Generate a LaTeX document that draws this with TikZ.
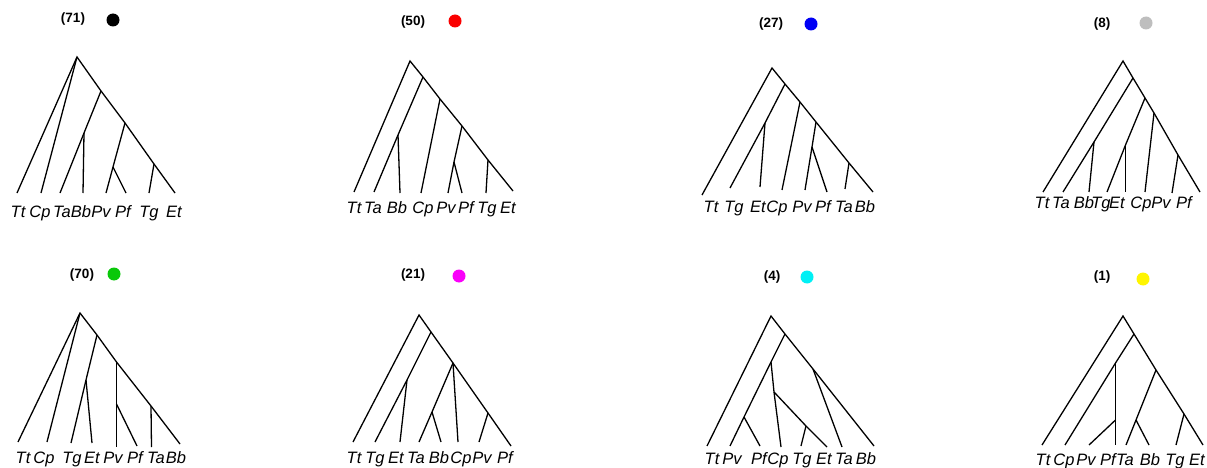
\documentclass[tikz,border=0pt]{standalone}
\usepackage{fontspec}
\setmainfont{Liberation Sans}
\definecolor{dotred}{RGB}{250,0,0}
\definecolor{dotblue}{RGB}{0,0,245}
\definecolor{dotgrey}{RGB}{190,190,190}
\definecolor{dotgreen}{RGB}{10,200,10}
\definecolor{dotmagenta}{RGB}{250,0,250}
\definecolor{dotcyan}{RGB}{0,240,245}
\definecolor{dotyellow}{RGB}{255,245,0}
\tikzset{
  branch/.style={line width=1.3pt, line join=miter},
  leaf/.style={anchor=base, inner sep=0pt, font=\fontsize{16.5}{17}\selectfont\itshape},
  count/.style={inner sep=0pt, font=\fontsize{13.5}{14}\selectfont\bfseries},
  dotmark/.style={circle, inner sep=0pt, minimum size=13pt}
}
\begin{document}
\begin{tikzpicture}[x=1pt, y=-1pt]
    \useasboundingbox (0,0) rectangle (1207,468);

    % Tree 1: (71) black
    \node[count] (cnt1) at (73,19) {(71)};
    \node[dotmark, fill=black] (dot1) at (113,20) {};
    \coordinate (a0) at (77,57);
    \coordinate (a1) at (101,91);
    \coordinate (a2) at (125,123);
    \coordinate (a3) at (154,164);
    \coordinate (a4) at (84,133);
    \coordinate (a5) at (113,167);
    \coordinate (aTt) at (17,193);
    \coordinate (aCp) at (41,193);
    \coordinate (aTa) at (60,193);
    \coordinate (aBb) at (83,193);
    \coordinate (aPv) at (106,193);
    \coordinate (aPf) at (126,193);
    \coordinate (aTg) at (149,193);
    \coordinate (aEt) at (175,193);
    \draw[branch] (aTt) -- (a0) -- (a1) -- (a2) -- (a3) -- (aEt);
    \draw[branch] (a0) -- (aCp);
    \draw[branch] (a1) -- (a4) -- (aTa);
    \draw[branch] (a4) -- (aBb);
    \draw[branch] (a2) -- (a5) -- (aPv);
    \draw[branch] (a5) -- (aPf);
    \draw[branch] (a3) -- (aTg);
    \node[leaf] (laTt) at (18,217) {Tt};
    \node[leaf] (laCp) at (40,217) {Cp};
    \node[leaf] (laTa) at (62,217) {Ta};
    \node[leaf] (laBb) at (81,217) {Bb};
    \node[leaf] (laPv) at (101,217) {Pv};
    \node[leaf] (laPf) at (123,217) {Pf};
    \node[leaf] (laTg) at (149,217) {Tg};
    \node[leaf] (laEt) at (174,217) {Et};

    % Tree 2: (50) red
    \node[count] (cnt2) at (413,22) {(50)};
    \node[dotmark, fill=dotred] (dot2) at (455,21) {};
    \coordinate (b0) at (410,61);
    \coordinate (b1) at (423,77);
    \coordinate (b2) at (440,99);
    \coordinate (b3) at (462,126);
    \coordinate (b4) at (488,160);
    \coordinate (b5) at (398,135);
    \coordinate (b6) at (454,162);
    \coordinate (bTt) at (354,192);
    \coordinate (bTa) at (374,192);
    \coordinate (bBb) at (400,193);
    \coordinate (bCp) at (421,193);
    \coordinate (bPv) at (448,193);
    \coordinate (bPf) at (462,193);
    \coordinate (bTg) at (486,193);
    \coordinate (bEt) at (513,191);
    \draw[branch] (bTt) -- (b0) -- (b1) -- (b2) -- (b3) -- (b4) -- (bEt);
    \draw[branch] (b1) -- (b5) -- (bTa);
    \draw[branch] (b5) -- (bBb);
    \draw[branch] (b2) -- (bCp);
    \draw[branch] (b3) -- (b6) -- (bPv);
    \draw[branch] (b6) -- (bPf);
    \draw[branch] (b4) -- (bTg);
    \node[leaf] (lbTt) at (354,213) {Tt};
    \node[leaf] (lbTa) at (373,213) {Ta};
    \node[leaf] (lbBb) at (397,213) {Bb};
    \node[leaf] (lbCp) at (423,213) {Cp};
    \node[leaf] (lbPv) at (446,213) {Pv};
    \node[leaf] (lbPf) at (466,213) {Pf};
    \node[leaf] (lbTg) at (487,213) {Tg};
    \node[leaf] (lbEt) at (508,213) {Et};

    % Tree 3: (27) blue
    \node[count] (cnt3) at (771,24) {(27)};
    \node[dotmark, fill=dotblue] (dot3) at (811,24) {};
    \coordinate (c0) at (772,68);
    \coordinate (c1) at (785,84);
    \coordinate (c2) at (800,102);
    \coordinate (c3) at (816,122);
    \coordinate (c4) at (849,163);
    \coordinate (c5) at (765,123);
    \coordinate (c6) at (812,147);
    \coordinate (cTt) at (702,195);
    \coordinate (cTg) at (730,188);
    \coordinate (cEt) at (760,187);
    \coordinate (cCp) at (782,190);
    \coordinate (cPv) at (805,190);
    \coordinate (cPf) at (827,192);
    \coordinate (cTa) at (845,189);
    \coordinate (cBb) at (873,192);
    \draw[branch] (cTt) -- (c0) -- (c1) -- (c2) -- (c3) -- (c4) -- (cBb);
    \draw[branch] (c1) -- (c5) -- (cTg);
    \draw[branch] (c5) -- (cEt);
    \draw[branch] (c2) -- (cCp);
    \draw[branch] (c3) -- (c6) -- (cPv);
    \draw[branch] (c6) -- (cPf);
    \draw[branch] (c4) -- (cTa);
    \node[leaf] (lcTt) at (711,212) {Tt};
    \node[leaf] (lcTg) at (734,212) {Tg};
    \node[leaf] (lcEt) at (758,212) {Et};
    \node[leaf] (lcCp) at (777,212) {Cp};
    \node[leaf] (lcPv) at (802,212) {Pv};
    \node[leaf] (lcPf) at (823,212) {Pf};
    \node[leaf] (lcTa) at (844,212) {Ta};
    \node[leaf] (lcBb) at (865,212) {Bb};

    % Tree 4: (8) grey
    \node[count] (cnt4) at (1102,24) {(8)};
    \node[dotmark, fill=dotgrey] (dot4) at (1146,23) {};
    \coordinate (d0) at (1123,61);
    \coordinate (d1) at (1133,78);
    \coordinate (d2) at (1145,98);
    \coordinate (d3) at (1154,113);
    \coordinate (d4) at (1178,155);
    \coordinate (d5) at (1094,142);
    \coordinate (d6) at (1125.5,145);
    \coordinate (dTt) at (1043,192);
    \coordinate (dTa) at (1063,192);
    \coordinate (dBb) at (1089,192);
    \coordinate (dTg) at (1107,192);
    \coordinate (dEt) at (1125.5,192);
    \coordinate (dCp) at (1145,192);
    \coordinate (dPv) at (1172,193);
    \coordinate (dPf) at (1200,192);
    \draw[branch] (dTt) -- (d0) -- (d1) -- (d2) -- (d3) -- (d4) -- (dPf);
    \draw[branch] (d1) -- (d5) -- (dTa);
    \draw[branch] (d5) -- (dBb);
    \draw[branch] (d2) -- (d6) -- (dTg);
    \draw[branch] (d6) -- (dEt);
    \draw[branch] (d3) -- (dCp);
    \draw[branch] (d4) -- (dPv);
    \node[leaf] (ldTt) at (1042,208) {Tt};
    \node[leaf] (ldTa) at (1061,208) {Ta};
    \node[leaf] (ldBb) at (1084,208) {Bb};
    \node[leaf] (ldTg) at (1101,208) {Tg};
    \node[leaf] (ldEt) at (1117,208) {Et};
    \node[leaf] (ldCp) at (1141,208) {Cp};
    \node[leaf] (ldPv) at (1161,208) {Pv};
    \node[leaf] (ldPf) at (1184,208) {Pf};

    % Tree 5: (70) green
    \node[count] (cnt5) at (82,275) {(70)};
    \node[dotmark, fill=dotgreen] (dot5) at (114,274) {};
    \coordinate (e0) at (80,313);
    \coordinate (e1) at (97,335);
    \coordinate (e2) at (116.5,362);
    \coordinate (e3) at (151,406);
    \coordinate (e4) at (86,380);
    \coordinate (e5) at (116.5,404);
    \coordinate (eTt) at (18,442);
    \coordinate (eCp) at (47,442);
    \coordinate (eTg) at (71,443);
    \coordinate (eEt) at (92,443);
    \coordinate (ePv) at (116.5,447);
    \coordinate (ePf) at (137,446);
    \coordinate (eTa) at (151.5,447);
    \coordinate (eBb) at (180,444);
    \draw[branch] (eTt) -- (e0) -- (e1) -- (e2) -- (e3) -- (eBb);
    \draw[branch] (e0) -- (eCp);
    \draw[branch] (e1) -- (e4) -- (eTg);
    \draw[branch] (e4) -- (eEt);
    \draw[branch] (e2) -- (e5) -- (ePv);
    \draw[branch] (e5) -- (ePf);
    \draw[branch] (e3) -- (eTa);
    \node[leaf] (leTt) at (23,463) {Tt};
    \node[leaf] (leCp) at (44,463) {Cp};
    \node[leaf] (leTg) at (72,463) {Tg};
    \node[leaf] (leEt) at (92,463) {Et};
    \node[leaf] (lePv) at (113,463) {Pv};
    \node[leaf] (lePf) at (135,463) {Pf};
    \node[leaf] (leTa) at (156,463) {Ta};
    \node[leaf] (leBb) at (176,463) {Bb};

    % Tree 6: (21) magenta
    \node[count] (cnt6) at (413,275) {(21)};
    \node[dotmark, fill=dotmagenta] (dot6) at (459,276) {};
    \coordinate (f0) at (419,315);
    \coordinate (f1) at (431,332);
    \coordinate (f2) at (453,363);
    \coordinate (f3) at (488,413);
    \coordinate (f4) at (407,380);
    \coordinate (f5) at (432,412);
    \coordinate (fTt) at (353,442);
    \coordinate (fTg) at (375,442);
    \coordinate (fEt) at (400,442);
    \coordinate (fTa) at (419,442);
    \coordinate (fBb) at (441,442);
    \coordinate (fCp) at (458,442);
    \coordinate (fPv) at (479,442);
    \coordinate (fPf) at (511,446);
    \draw[branch] (fTt) -- (f0) -- (f1) -- (f2) -- (f3) -- (fPf);
    \draw[branch] (f1) -- (f4) -- (fTg);
    \draw[branch] (f4) -- (fEt);
    \draw[branch] (f2) -- (f5) -- (fTa);
    \draw[branch] (f5) -- (fBb);
    \draw[branch] (f2) -- (fCp);
    \draw[branch] (f3) -- (fPv);
    \node[leaf] (lfTt) at (354,463) {Tt};
    \node[leaf] (lfTg) at (375,463) {Tg};
    \node[leaf] (lfEt) at (396,463) {Et};
    \node[leaf] (lfTa) at (416,463) {Ta};
    \node[leaf] (lfBb) at (439,463) {Bb};
    \node[leaf] (lfCp) at (461,463) {Cp};
    \node[leaf] (lfPv) at (482,463) {Pv};
    \node[leaf] (lfPf) at (505,463) {Pf};

    % Tree 7: (4) cyan
    \node[count] (cnt7) at (772,277) {(4)};
    \node[dotmark, fill=dotcyan] (dot7) at (807,277) {};
    \coordinate (g0) at (771,316);
    \coordinate (g1) at (785,334);
    \coordinate (g2) at (813,369);
    \coordinate (g3) at (771,362);
    \coordinate (g4) at (744,417);
    \coordinate (g5) at (774,392);
    \coordinate (g6) at (806,426);
    \coordinate (gTt) at (707,446);
    \coordinate (gPv) at (730,446);
    \coordinate (gPf) at (760,446);
    \coordinate (gCp) at (781,447);
    \coordinate (gTg) at (801,446);
    \coordinate (gEt) at (827,447);
    \coordinate (gTa) at (842,447);
    \coordinate (gBb) at (874,446);
    \draw[branch] (gTt) -- (g0) -- (g1) -- (g2) -- (gBb);
    \draw[branch] (g1) -- (g3) -- (g4) -- (gPv);
    \draw[branch] (g4) -- (gPf);
    \draw[branch] (g3) -- (g5) -- (gCp);
    \draw[branch] (g5) -- (g6) -- (gEt);
    \draw[branch] (g6) -- (gTg);
    \draw[branch] (g2) -- (gTa);
    \node[leaf] (lgTt) at (712,464) {Tt};
    \node[leaf] (lgPv) at (732,464) {Pv};
    \node[leaf] (lgPf) at (759,464) {Pf};
    \node[leaf] (lgCp) at (778,464) {Cp};
    \node[leaf] (lgTg) at (802,464) {Tg};
    \node[leaf] (lgEt) at (824,464) {Et};
    \node[leaf] (lgTa) at (844,464) {Ta};
    \node[leaf] (lgBb) at (866,464) {Bb};

    % Tree 8: (1) yellow
    \node[count] (cnt8) at (1102,277) {(1)};
    \node[dotmark, fill=dotyellow] (dot8) at (1143,279) {};
    \coordinate (h0) at (1123,316);
    \coordinate (h1) at (1134,334);
    \coordinate (h2) at (1156,370);
    \coordinate (h3) at (1184,414);
    \coordinate (h4) at (1115.5,363);
    \coordinate (h5) at (1115.5,420);
    \coordinate (h6) at (1136,420);
    \coordinate (hTt) at (1042,445);
    \coordinate (hCp) at (1065,445);
    \coordinate (hPv) at (1089,445);
    \coordinate (hPf) at (1115.5,445);
    \coordinate (hTa) at (1126,445);
    \coordinate (hBb) at (1149,445);
    \coordinate (hTg) at (1176,445);
    \coordinate (hEt) at (1203,445);
    \draw[branch] (hTt) -- (h0) -- (h1) -- (h2) -- (h3) -- (hEt);
    \draw[branch] (h1) -- (h4) -- (hCp);
    \draw[branch] (h4) -- (h5) -- (hPf);
    \draw[branch] (h5) -- (hPv);
    \draw[branch] (h2) -- (h6) -- (hTa);
    \draw[branch] (h6) -- (hBb);
    \draw[branch] (h3) -- (hTg);
    \node[leaf] (lhTt) at (1043,465) {Tt};
    \node[leaf] (lhCp) at (1064,465) {Cp};
    \node[leaf] (lhPv) at (1086,465) {Pv};
    \node[leaf] (lhPf) at (1108,465) {Pf};
    \node[leaf] (lhTa) at (1125,465) {Ta};
    \node[leaf] (lhBb) at (1150,465) {Bb};
    \node[leaf] (lhTg) at (1175,465) {Tg};
    \node[leaf] (lhEt) at (1197,465) {Et};
\end{tikzpicture}
\end{document}
